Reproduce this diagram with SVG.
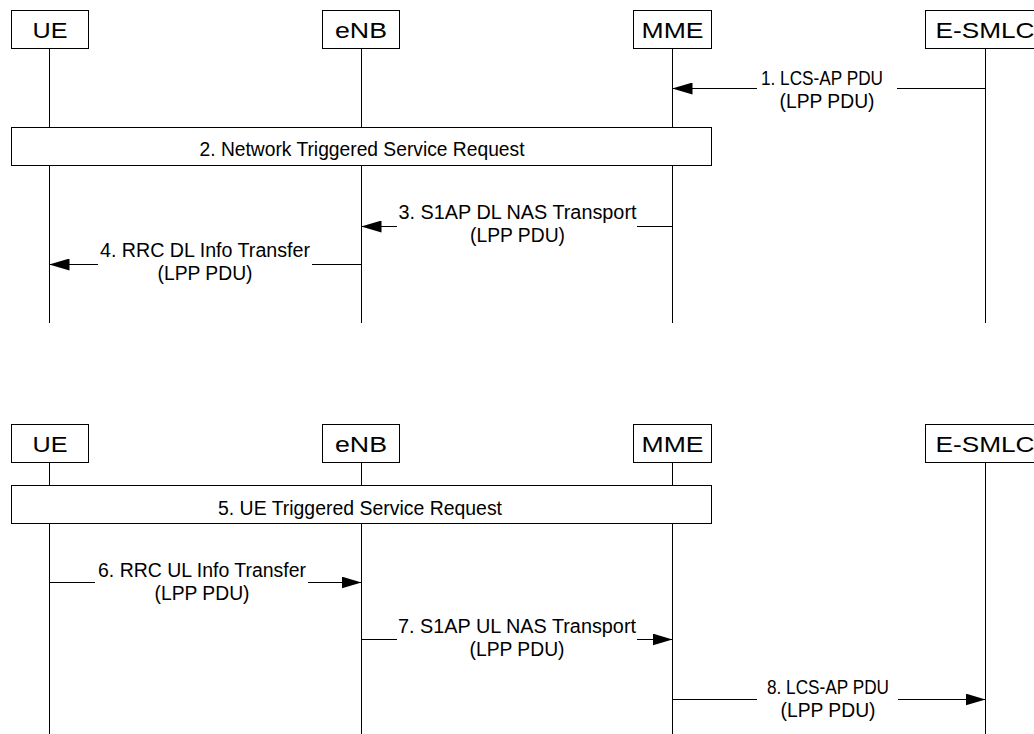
<svg xmlns="http://www.w3.org/2000/svg" width="1034" height="734" viewBox="0 0 1034 734">
<style>
  .box { fill: #ffffff; stroke: #000000; stroke-width: 1; }
  .life { stroke: #000000; stroke-width: 1; fill: none; }
  .msg { stroke: #000000; stroke-width: 1; fill: none; }
  .nl { font-family: "Liberation Sans", Arial, sans-serif; font-size: 22px; fill: #000000; text-anchor: middle; }
  .ml { font-family: "Liberation Sans", Arial, sans-serif; font-size: 20px; fill: #000000; text-anchor: middle; }
</style>
<defs>
  <marker id="ah" markerUnits="userSpaceOnUse" markerWidth="20" markerHeight="12" refX="20" refY="6" orient="auto">
    <path d="M0,0 L20,6 L0,12 z" fill="#000000"/>
  </marker>
</defs>
<rect width="1034" height="734" fill="#ffffff"/>

<g id="lifelines">
  <line class="life" x1="49.5" y1="49" x2="49.5" y2="323"/>
  <line class="life" x1="361.5" y1="49" x2="361.5" y2="323"/>
  <line class="life" x1="672.5" y1="49" x2="672.5" y2="323"/>
  <line class="life" x1="985.5" y1="49" x2="985.5" y2="323"/>
  <line class="life" x1="49.5" y1="463" x2="49.5" y2="734"/>
  <line class="life" x1="361.5" y1="463" x2="361.5" y2="734"/>
  <line class="life" x1="672.5" y1="463" x2="672.5" y2="734"/>
  <line class="life" x1="985.5" y1="463" x2="985.5" y2="734"/>
</g>

<g id="ue-top"><rect class="box" x="11.5" y="10.5" width="77" height="38"/><text class="nl" x="50" y="38" textLength="35" lengthAdjust="spacingAndGlyphs">UE</text></g>
<g id="enb-top"><rect class="box" x="322.5" y="10.5" width="77" height="38"/><text class="nl" x="361" y="38" textLength="52" lengthAdjust="spacingAndGlyphs">eNB</text></g>
<g id="mme-top"><rect class="box" x="633.5" y="10.5" width="78" height="38"/><text class="nl" x="672.5" y="38" textLength="62" lengthAdjust="spacingAndGlyphs">MME</text></g>
<g id="esmlc-top"><rect class="box" x="925.5" y="10.5" width="120" height="38"/><text class="nl" x="985" y="38" textLength="99" lengthAdjust="spacingAndGlyphs">E-SMLC</text></g>

<g id="ue-bottom"><rect class="box" x="11.5" y="424.5" width="77" height="38"/><text class="nl" x="50" y="452" textLength="35" lengthAdjust="spacingAndGlyphs">UE</text></g>
<g id="enb-bottom"><rect class="box" x="322.5" y="424.5" width="77" height="38"/><text class="nl" x="361" y="452" textLength="52" lengthAdjust="spacingAndGlyphs">eNB</text></g>
<g id="mme-bottom"><rect class="box" x="633.5" y="424.5" width="78" height="38"/><text class="nl" x="672.5" y="452" textLength="62" lengthAdjust="spacingAndGlyphs">MME</text></g>
<g id="esmlc-bottom"><rect class="box" x="925.5" y="424.5" width="120" height="38"/><text class="nl" x="985" y="452" textLength="99" lengthAdjust="spacingAndGlyphs">E-SMLC</text></g>

<g id="step2"><rect class="box" x="11.5" y="127.5" width="700" height="38"/><text class="ml" x="362" y="156" textLength="325" lengthAdjust="spacingAndGlyphs">2. Network Triggered Service Request</text></g>
<g id="step5"><rect class="box" x="11.5" y="485.5" width="700" height="38"/><text class="ml" x="360" y="515" textLength="284" lengthAdjust="spacingAndGlyphs">5. UE Triggered Service Request</text></g>

<g id="connectors">
  <line class="msg" x1="757" y1="88.5" x2="672.5" y2="88.5" marker-end="url(#ah)"/>
  <line class="msg" x1="897" y1="88.5" x2="985.5" y2="88.5"/>
  <line class="msg" x1="397" y1="226.5" x2="361.5" y2="226.5" marker-end="url(#ah)"/>
  <line class="msg" x1="637" y1="226.5" x2="672.5" y2="226.5"/>
  <line class="msg" x1="98" y1="264.5" x2="49.5" y2="264.5" marker-end="url(#ah)"/>
  <line class="msg" x1="312" y1="264.5" x2="361.5" y2="264.5"/>
  <line class="msg" x1="49.5" y1="582.5" x2="95" y2="582.5"/>
  <line class="msg" x1="308" y1="582.5" x2="361.5" y2="582.5" marker-end="url(#ah)"/>
  <line class="msg" x1="361.5" y1="639.5" x2="397" y2="639.5"/>
  <line class="msg" x1="637" y1="639.5" x2="672.5" y2="639.5" marker-end="url(#ah)"/>
  <line class="msg" x1="672.5" y1="699.5" x2="757" y2="699.5"/>
  <line class="msg" x1="898" y1="699.5" x2="985.5" y2="699.5" marker-end="url(#ah)"/>
</g>

<g id="labels">
  <text class="ml" x="822" y="85" textLength="122" lengthAdjust="spacingAndGlyphs">1. LCS-AP PDU</text>
  <text class="ml" x="827" y="108" textLength="95" lengthAdjust="spacingAndGlyphs">(LPP PDU)</text>
  <text class="ml" x="517.5" y="219" textLength="238" lengthAdjust="spacingAndGlyphs">3. S1AP DL NAS Transport</text>
  <text class="ml" x="517.5" y="242" textLength="95" lengthAdjust="spacingAndGlyphs">(LPP PDU)</text>
  <text class="ml" x="205" y="257" textLength="210" lengthAdjust="spacingAndGlyphs">4. RRC DL Info Transfer</text>
  <text class="ml" x="205" y="280" textLength="95" lengthAdjust="spacingAndGlyphs">(LPP PDU)</text>
  <text class="ml" x="202" y="577" textLength="208" lengthAdjust="spacingAndGlyphs">6. RRC UL Info Transfer</text>
  <text class="ml" x="202" y="600" textLength="95" lengthAdjust="spacingAndGlyphs">(LPP PDU)</text>
  <text class="ml" x="517" y="633" textLength="238" lengthAdjust="spacingAndGlyphs">7. S1AP UL NAS Transport</text>
  <text class="ml" x="517" y="656" textLength="95" lengthAdjust="spacingAndGlyphs">(LPP PDU)</text>
  <text class="ml" x="828" y="694" textLength="122" lengthAdjust="spacingAndGlyphs">8. LCS-AP PDU</text>
  <text class="ml" x="828" y="717" textLength="95" lengthAdjust="spacingAndGlyphs">(LPP PDU)</text>
</g>
</svg>
